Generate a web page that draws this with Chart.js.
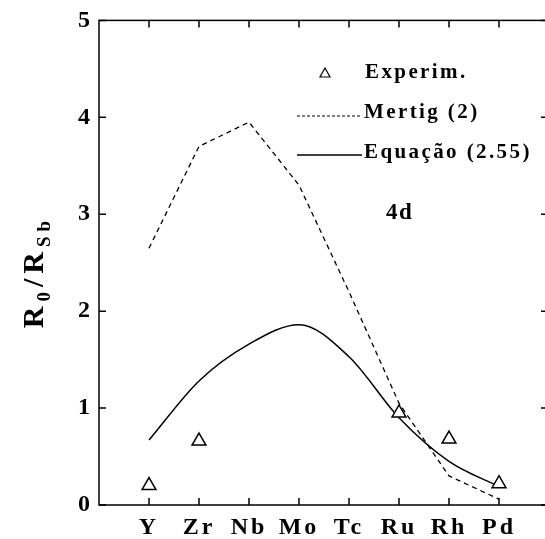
<!DOCTYPE html>
<html>
<head>
<meta charset="utf-8">
<script src="https://cdn.jsdelivr.net/npm/chart.js@4.4.0/dist/chart.umd.min.js"></script>
<style>
  html, body { margin: 0; padding: 0; background: #fff; overflow: hidden; }
  #wrap { width: 560px; height: 539px; }
</style>
</head>
<body>
<div id="wrap"><canvas id="chart" width="560" height="539"></canvas></div>
<script>
// 4d elements along the x axis
const elements = ['Y', 'Zr', 'Nb', 'Mo', 'Tc', 'Ru', 'Rh', 'Pd'];

// measured values (null where no measurement)
const experim = [0.20, 0.66, null, null, null, 0.95, 0.68, 0.22];
// Mertig (2)
const mertig = [2.65, 3.70, 3.95, 3.30, 2.20, 1.05, 0.30, 0.06];
// Equação (2.55)
const equacao = [0.67, 1.28, 1.66, 1.86, 1.53, 0.90, 0.45, 0.19];

const yTicks = [0, 1, 2, 3, 4, 5];

const serif = '"Liberation Serif", "Times New Roman", serif';

function toPoints(values) {
    return values
        .map((v, i) => (v === null ? null : { x: i, y: v }))
        .filter(p => p !== null);
}

// wide letter spacing for the tick labels
const spacing = {
    id: 'spacing',
    beforeDraw(chart) {
        chart.ctx.letterSpacing = '3px';
    }
};

// frame, inward tick marks, legend, "4d" and the y axis title
const decorations = {
    id: 'decorations',
    afterDraw(chart) {
        const ctx = chart.ctx;
        const area = chart.chartArea;
        const xs = chart.scales.x;
        const ys = chart.scales.y;

        ctx.save();
        ctx.strokeStyle = '#000';
        ctx.lineWidth = 1.5;
        ctx.strokeRect(area.left, area.top, area.right - area.left, area.bottom - area.top);

        ctx.beginPath();
        elements.forEach((e, i) => {
            const px = xs.getPixelForValue(i);
            ctx.moveTo(px, area.bottom);
            ctx.lineTo(px, area.bottom - 7);
            ctx.moveTo(px, area.top);
            ctx.lineTo(px, area.top + 7);
        });
        yTicks.forEach(v => {
            const py = ys.getPixelForValue(v);
            ctx.moveTo(area.left, py);
            ctx.lineTo(area.left + 7, py);
            ctx.moveTo(area.right, py);
            ctx.lineTo(area.right - 8, py);
        });
        ctx.stroke();

        // legend
        ctx.fillStyle = '#000';
        ctx.textBaseline = 'middle';
        ctx.textAlign = 'left';
        ctx.font = 'bold 21px ' + serif;
        ctx.letterSpacing = '2.4px';

        ctx.lineWidth = 1.2;
        ctx.beginPath();
        ctx.moveTo(325, 68);
        ctx.lineTo(330, 77);
        ctx.lineTo(320, 77);
        ctx.closePath();
        ctx.stroke();
        ctx.fillText('Experim.', 365, 73);

        ctx.setLineDash([3, 2]);
        ctx.lineWidth = 1;
        ctx.beginPath();
        ctx.moveTo(297, 116);
        ctx.lineTo(362, 116);
        ctx.stroke();
        ctx.setLineDash([]);
        ctx.fillText('Mertig (2)', 364, 113);

        ctx.lineWidth = 1.3;
        ctx.beginPath();
        ctx.moveTo(297, 155);
        ctx.lineTo(362, 155);
        ctx.stroke();
        ctx.fillText('Equação (2.55)', 364, 153);

        ctx.font = 'bold 23px ' + serif;
        ctx.letterSpacing = '1.5px';
        ctx.fillText('4d', 386, 213);

        // y axis title R0/RSb, rotated
        ctx.letterSpacing = '5px';
        ctx.translate(33, 272);
        ctx.rotate(-Math.PI / 2);
        ctx.textBaseline = 'alphabetic';
        const big = 'bold 30px ' + serif;
        const small = 'bold 19px ' + serif;
        const parts = [['R', big, 0], ['0', small, 7], ['/', big, 0], ['R', big, 0], ['Sb', small, 7]];
        let w = 0;
        parts.forEach(p => { ctx.font = p[1]; w += ctx.measureText(p[0]).width; });
        let cx = -w / 2;
        parts.forEach(p => {
            ctx.font = p[1];
            ctx.fillText(p[0], cx, 10 + p[2]);
            cx += ctx.measureText(p[0]).width;
        });
        ctx.restore();
    }
};

const ctx = document.getElementById('chart').getContext('2d');
new Chart(ctx, {
    type: 'scatter',
    data: {
        datasets: [{
            label: 'Experim.',
            data: toPoints(experim),
            showLine: false,
            pointStyle: 'triangle',
            pointRadius: 8,
            pointBorderWidth: 1.5,
            borderColor: '#000',
            backgroundColor: '#fff'
        }, {
            label: 'Mertig (2)',
            data: toPoints(mertig),
            showLine: true,
            borderColor: '#000',
            borderWidth: 1.3,
            borderDash: [5, 4],
            pointRadius: 0,
            tension: 0
        }, {
            label: 'Equação (2.55)',
            data: toPoints(equacao),
            showLine: true,
            borderColor: '#000',
            borderWidth: 1.5,
            pointRadius: 0,
            cubicInterpolationMode: 'monotone'
        }]
    },
    options: {
        responsive: false,
        animation: false,
        layout: { padding: { top: 18, right: 11, left: 0, bottom: 0 } },
        plugins: {
            legend: { display: false },
            tooltip: { enabled: false }
        },
        scales: {
            x: {
                type: 'linear',
                min: -1,
                max: 8,
                afterBuildTicks: s => { s.ticks = elements.map((e, i) => ({ value: i })); },
                afterFit: s => { s.height = 34; },
                grid: { display: false, drawTicks: false },
                border: { display: false },
                ticks: {
                    color: '#000',
                    padding: 8,
                    autoSkip: false,
                    maxRotation: 0,
                    font: { family: serif, size: 24, weight: 'bold' },
                    callback: v => elements[v] || ''
                }
            },
            y: {
                min: 0,
                max: 5,
                afterBuildTicks: s => { s.ticks = yTicks.map(v => ({ value: v })); },
                afterFit: s => { s.width = 99; },
                grid: { display: false, drawTicks: false },
                border: { display: false },
                ticks: {
                    color: '#000',
                    padding: 6,
                    font: { family: serif, size: 24, weight: 'bold' }
                }
            }
        }
    },
    plugins: [spacing, decorations]
});
</script>
</body>
</html>
